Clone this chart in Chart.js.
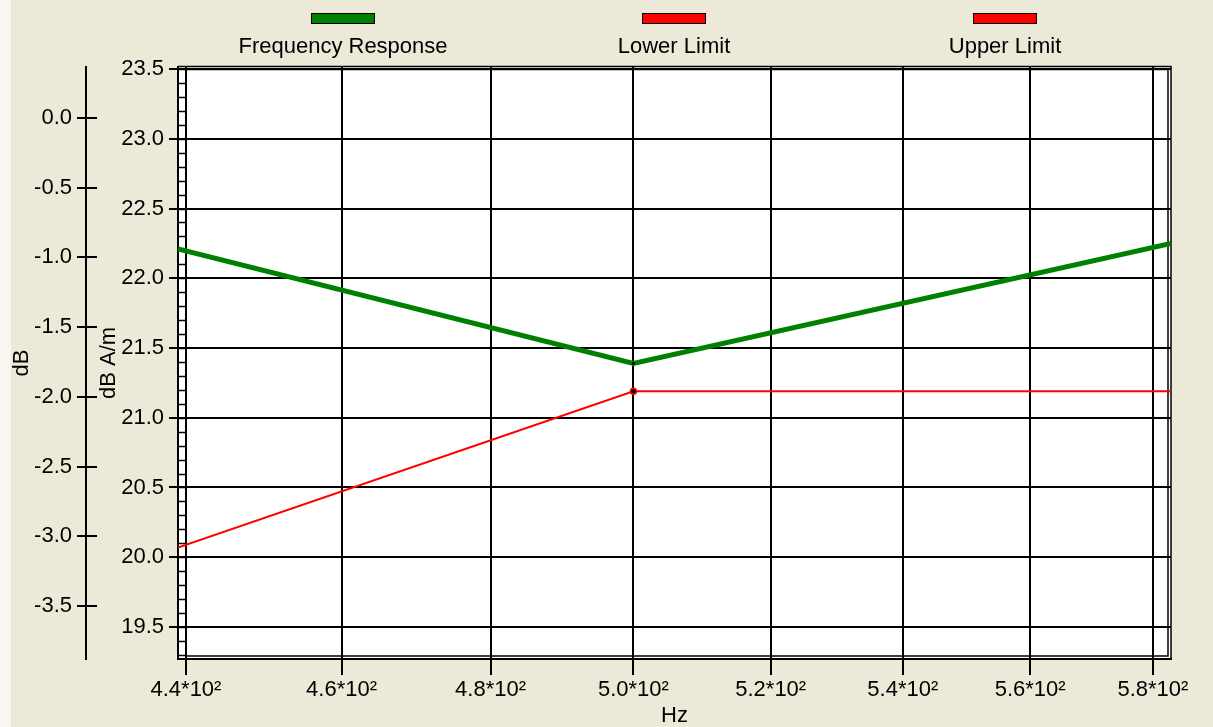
<!DOCTYPE html>
<html>
<head>
<meta charset="utf-8">
<title>Frequency Response</title>
<script src="https://cdn.jsdelivr.net/npm/chart.js@4/dist/chart.umd.min.js"></script>
<style>
  html, body { margin: 0; padding: 0; background: #ECE9D8; }
  canvas { display: block; }
</style>
</head>
<body>
<canvas id="responseChart" width="1213" height="727"></canvas>
<script>
const FONT = "'Liberation Sans', Arial, sans-serif";

// Measured points (Hz) and levels (dB A/m)
const freqHz = [439, 500, 583];
const responseDbAm = [22.21, 21.39, 22.25];
const lowerLimitDbAm = [20.07, 21.19, 21.19];
const upperLimitDbAm = [];

// Axis ticks
const hzTicks = [440, 460, 480, 500, 520, 540, 560, 580];
const dbAmTicks = [19.5, 20.0, 20.5, 21.0, 21.5, 22.0, 22.5, 23.0, 23.5];
const dbTicks = [-3.5, -3.0, -2.5, -2.0, -1.5, -1.0, -0.5, 0.0];

const toPoints = (ys) => ys.map((y, i) => ({ x: freqHz[i], y: y }));

// Background, plot frame with the left ladder strip, and ticks crossing the dB axis
const framePlugin = {
  id: "frame",
  beforeDraw(chart) {
    const { ctx, chartArea: a } = chart;
    ctx.save();
    ctx.fillStyle = "#ECE9D8";
    ctx.fillRect(0, 0, chart.width, chart.height);
    ctx.fillStyle = "#f7f6f1";
    ctx.fillRect(0, 0, 11, chart.height);
    ctx.fillStyle = "#ffffff";
    ctx.fillRect(a.left, a.top, a.right - a.left, a.bottom - a.top);
    ctx.restore();
  },
  beforeDatasetsDraw(chart) {
    const { ctx, chartArea: a, scales } = chart;
    const y = scales.y;
    const L = a.left, R = Math.round(a.right), T = Math.round(a.top), B = Math.round(a.bottom);
    ctx.save();
    ctx.strokeStyle = "#000";
    ctx.lineWidth = 1.5;
    ctx.beginPath();
    // outer top and right edges
    ctx.moveTo(L, T - 0.5); ctx.lineTo(R, T - 0.5); ctx.lineTo(R, B);
    // inner edges
    ctx.moveTo(L + 8, T); ctx.lineTo(L + 8, B);
    ctx.moveTo(L + 8, T + 2.5); ctx.lineTo(R - 3, T + 2.5);
    ctx.lineTo(R - 3, B - 3); ctx.lineTo(L + 8, B - 3);
    ctx.stroke();

    // rungs of the left strip, every 0.1
    ctx.lineWidth = 1.5;
    ctx.beginPath();
    for (let k = Math.ceil(y.min * 10); k <= Math.floor(y.max * 10); k++) {
      const py = Math.round(y.getPixelForValue(k / 10)) + 0.5;
      ctx.moveTo(L, py); ctx.lineTo(L + 8, py);
    }
    ctx.stroke();

    // right half of the dB axis tick marks
    const y2 = scales.y2;
    ctx.lineWidth = 2;
    ctx.beginPath();
    y2.ticks.forEach(t => {
      const py = Math.round(y2.getPixelForValue(t.value));
      ctx.moveTo(y2.right, py); ctx.lineTo(y2.right + 11, py);
    });
    ctx.stroke();
    ctx.restore();
  },
  afterDraw(chart) {
    // legend: swatch above label, spread over the plot width
    const { ctx, chartArea: a } = chart;
    const w = a.right - a.left;
    ctx.save();
    ctx.font = "22px " + FONT;
    ctx.textAlign = "center";
    ctx.textBaseline = "middle";
    chart.data.datasets.forEach((ds, i) => {
      const cx = Math.round(a.left + w * (2 * i + 1) / 6) - 1;
      ctx.fillStyle = ds.borderColor;
      ctx.fillRect(cx - 31, 13, 63, 11);
      ctx.strokeStyle = "#000";
      ctx.lineWidth = 1;
      ctx.strokeRect(cx - 31.5, 13.5, 63, 10);
      ctx.fillStyle = "#000";
      ctx.fillText(ds.label, cx, 47);
    });
    ctx.restore();
  }
};

const tickFont = { family: FONT, size: 22 };
const titleFont = { family: FONT, size: 22, lineHeight: 1 };

new Chart(document.getElementById("responseChart"), {
  type: "line",
  data: {
    datasets: [
      {
        label: "Frequency Response",
        data: toPoints(responseDbAm),
        borderColor: "#008000",
        backgroundColor: "#000",
        borderWidth: 5,
        pointStyle: "rect",
        pointRadius: [0, 2, 0],
        pointBorderWidth: 0,
        tension: 0,
        yAxisID: "y"
      },
      {
        label: "Lower Limit",
        data: toPoints(lowerLimitDbAm),
        borderColor: "#ff0000",
        backgroundColor: "#000",
        borderWidth: 2,
        pointRadius: [0, 3, 0],
        pointBorderColor: "#ff0000",
        pointBorderWidth: 1.5,
        tension: 0,
        yAxisID: "y"
      },
      {
        label: "Upper Limit",
        data: toPoints(upperLimitDbAm),
        borderColor: "#ff0000",
        borderWidth: 2,
        pointRadius: 0,
        yAxisID: "y"
      }
    ]
  },
  options: {
    responsive: false,
    animation: false,
    layout: { padding: { top: 67, right: 42, left: 0, bottom: 0 } },
    plugins: { legend: { display: false }, tooltip: { enabled: false } },
    scales: {
      x: {
        type: "logarithmic",
        position: "bottom",
        min: 439,
        max: 583,
        afterBuildTicks: s => { s.ticks = hzTicks.map(v => ({ value: v })); },
        afterFit: s => { s.height = 68; },
        grid: { color: "#000", lineWidth: 2, tickLength: 16 },
        border: { display: true, color: "#000", width: 2 },
        ticks: {
          autoSkip: false, maxRotation: 0, padding: 2, color: "#000", font: tickFont,
          callback: v => (v / 100).toFixed(1) + "*10²"
        },
        title: { display: true, text: "Hz", color: "#000", font: titleFont, padding: { top: 0, bottom: 0 } }
      },
      y: {
        type: "linear",
        position: "left",
        weight: 0,
        min: 19.27,
        max: 23.515,
        afterBuildTicks: s => { s.ticks = dbAmTicks.map(v => ({ value: v })); },
        afterFit: s => { s.width = 92; },
        grid: { color: "#000", lineWidth: 2, tickLength: 9 },
        border: { display: true, color: "#000", width: 2 },
        ticks: { padding: 5, color: "#000", font: tickFont, callback: v => v.toFixed(1) },
        title: { display: true, text: "dB A/m", color: "#000", font: titleFont, padding: { top: 12, bottom: 0 } }
      },
      y2: {
        type: "linear",
        position: "left",
        weight: 1,
        min: -3.88,
        max: 0.365,
        afterBuildTicks: s => { s.ticks = dbTicks.map(v => ({ value: v })); },
        afterFit: s => { s.width = 86; },
        grid: { drawOnChartArea: false, color: "#000", lineWidth: 2, tickLength: 9 },
        border: { display: true, color: "#000", width: 2 },
        ticks: { padding: 5, color: "#000", font: tickFont, callback: v => v.toFixed(1) },
        title: { display: true, text: "dB", color: "#000", font: titleFont, padding: { top: 11, bottom: 0 } }
      }
    }
  },
  plugins: [framePlugin]
});
</script>
</body>
</html>
